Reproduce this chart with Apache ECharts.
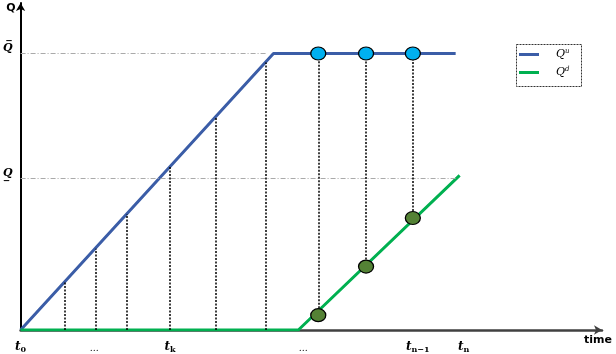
<!DOCTYPE html>
<html>
<head>
<meta charset="utf-8">
<script src="https://cdn.jsdelivr.net/npm/echarts@6/dist/echarts.min.js"></script>
<style>html,body{margin:0;padding:0;background:#fff}#c{width:616px;height:354px}</style>
</head>
<body>
<div id="c"></div>
<script>
// ---- data (arbitrary time / quantity units) ----
var X_MAX = 584, Y_MAX = 330;
var QBAR = 279, QLOW = 153;
var upperX = [0, 254, 437];
var upperY = [0, 279, 279];
var lowerX = [0, 279, 441];
var lowerY = [0, 0, 156];
var rampX = [44, 75, 107, 150, 196, 246];
var rampTop = [48, 82, 117, 165, 215, 270];
var sampleX = [299, 347, 394];
var sampleUpper = [279, 279, 279];
var sampleLower = [15, 64, 113];
var qbarEndX = 248, qlowEndX = 437;
var tickValues = [0, 74, 150, 284, 399, 445];
var tickMain = ['t', '…', 't', '…', 't', 't'];
var tickSub = ['0', '', 'k', '', 'n−1', 'n'];
var yTickValues = [QLOW, QBAR];
var yTickLabels = ['Q\u0332', 'Q\u0305'];

function pairs(xs, ys) { return xs.map(function (x, i) { return [x, ys[i]]; }); }

var dotted = rampX.map(function (x, i) { return [{ coord: [x, 0] }, { coord: [x, rampTop[i]] }]; })
  .concat(sampleX.map(function (x, i) { return [{ coord: [x, sampleLower[i]] }, { coord: [x, sampleUpper[i]] }]; }));
var refLines = [
  [{ coord: [0, QBAR] }, { coord: [qbarEndX, QBAR] }],
  [{ coord: [0, QLOW] }, { coord: [qlowEndX, QLOW] }]
];

var serif = 'DejaVu Serif';
var chart = echarts.init(document.getElementById('c'));
chart.setOption({
  animation: false,
  grid: { left: 18, top: 3, width: 584, height: 330 },
  legend: {
    data: ['Qu', 'Qd'], orient: 'vertical', left: 515, top: 44,
    padding: [4, 8, 4, 4], itemGap: 6, itemWidth: 20, itemHeight: 3, icon: 'rect',
    formatter: function (n) { return '{q|Q}{s|' + (n === 'Qu' ? 'u' : 'd') + '}'; },
    textStyle: {
      rich: {
        q: { fontFamily: serif, fontStyle: 'italic', fontSize: 11, color: '#000', padding: [0, 0, 0, 12] },
        s: { fontFamily: serif, fontStyle: 'italic', fontSize: 7, color: '#000', padding: [0, 0, 6, 0] }
      }
    }
  },
  graphic: [{
    type: 'rect', left: 514, top: 42, shape: { width: 65, height: 42 },
    style: { fill: 'none', stroke: '#333', lineWidth: 1, lineDash: [2, 1] }
  }],
  xAxis: {
    type: 'value', min: 0, max: X_MAX,
    name: 'time', nameLocation: 'end', nameGap: 10,
    nameTextStyle: { align: 'right', verticalAlign: 'top', fontWeight: 'bold', fontSize: 11, color: '#000', fontFamily: 'DejaVu Sans', padding: [5, 0, 0, 0] },
    axisLine: { show: true, symbol: ['none', 'arrow'], symbolSize: [7, 8], lineStyle: { color: '#404040', width: 2.5 } },
    axisTick: { show: false },
    splitLine: { show: false },
    axisLabel: {
      customValues: tickValues, margin: 10,
      formatter: function (v) {
        var i = tickValues.indexOf(v);
        if (i < 0) return '';
        if (tickMain[i] === '…') return '{d|…}';
        return '{t|' + tickMain[i] + '}{s|' + tickSub[i] + '}';
      },
      rich: {
        t: { fontFamily: serif, fontStyle: 'italic', fontWeight: 'bold', fontSize: 12, color: '#000' },
        s: { fontFamily: serif, fontWeight: 'bold', fontSize: 8, color: '#000', padding: [6, 0, 0, 0] },
        d: { fontFamily: serif, fontSize: 9, color: '#000', padding: [4, 0, 0, 0] }
      }
    }
  },
  yAxis: {
    type: 'value', min: 0, max: Y_MAX,
    name: 'Q', nameLocation: 'end', nameGap: 0,
    nameTextStyle: { align: 'right', verticalAlign: 'top', fontWeight: 'bold', fontSize: 11, color: '#000', fontFamily: 'DejaVu Sans', padding: [0, 5, 0, 0] },
    axisLine: { show: true, symbol: ['none', 'arrow'], symbolSize: [7, 8], lineStyle: { color: '#000', width: 2 } },
    axisTick: { show: false },
    splitLine: { show: false },
    axisLabel: {
      customValues: yTickValues, margin: 8, verticalAlign: 'bottom',
      fontFamily: serif, fontStyle: 'italic', fontWeight: 'bold', fontSize: 11, color: '#000',
      formatter: function (v) { var i = yTickValues.indexOf(v); return i < 0 ? '' : yTickLabels[i]; }
    }
  },
  series: [
    {
      name: 'refs', type: 'line', data: [], z: 1, silent: true,
      markLine: { silent: true, symbol: ['none', 'none'], label: { show: false },
        lineStyle: { color: '#aaa', width: 1, type: [5, 2, 1, 2] }, data: refLines }
    },
    {
      name: 'drops', type: 'line', data: [], z: 2, silent: true,
      markLine: { silent: true, symbol: ['none', 'none'], label: { show: false },
        lineStyle: { color: '#000', width: 1.5, type: [2, 1.5] }, data: dotted }
    },
    {
      name: 'Qu', type: 'line', data: pairs(upperX, upperY), showSymbol: false, z: 3,
      color: '#3B5DA7', lineStyle: { color: '#3B5DA7', width: 3 }
    },
    {
      name: 'Qd', type: 'line', data: pairs(lowerX, lowerY), showSymbol: false, z: 3,
      color: '#00B050', lineStyle: { color: '#00B050', width: 3 }
    },
    {
      name: 'upperSamples', type: 'scatter', data: pairs(sampleX, sampleUpper), z: 5,
      symbol: 'circle', symbolSize: [15, 13],
      itemStyle: { color: '#00B0F0', borderColor: '#000', borderWidth: 1.2, opacity: 1 }
    },
    {
      name: 'lowerSamples', type: 'scatter', data: pairs(sampleX, sampleLower), z: 5,
      symbol: 'circle', symbolSize: [15, 13],
      itemStyle: { color: '#548235', borderColor: '#000', borderWidth: 1.2, opacity: 1 }
    }
  ]
});
</script>
</body>
</html>
